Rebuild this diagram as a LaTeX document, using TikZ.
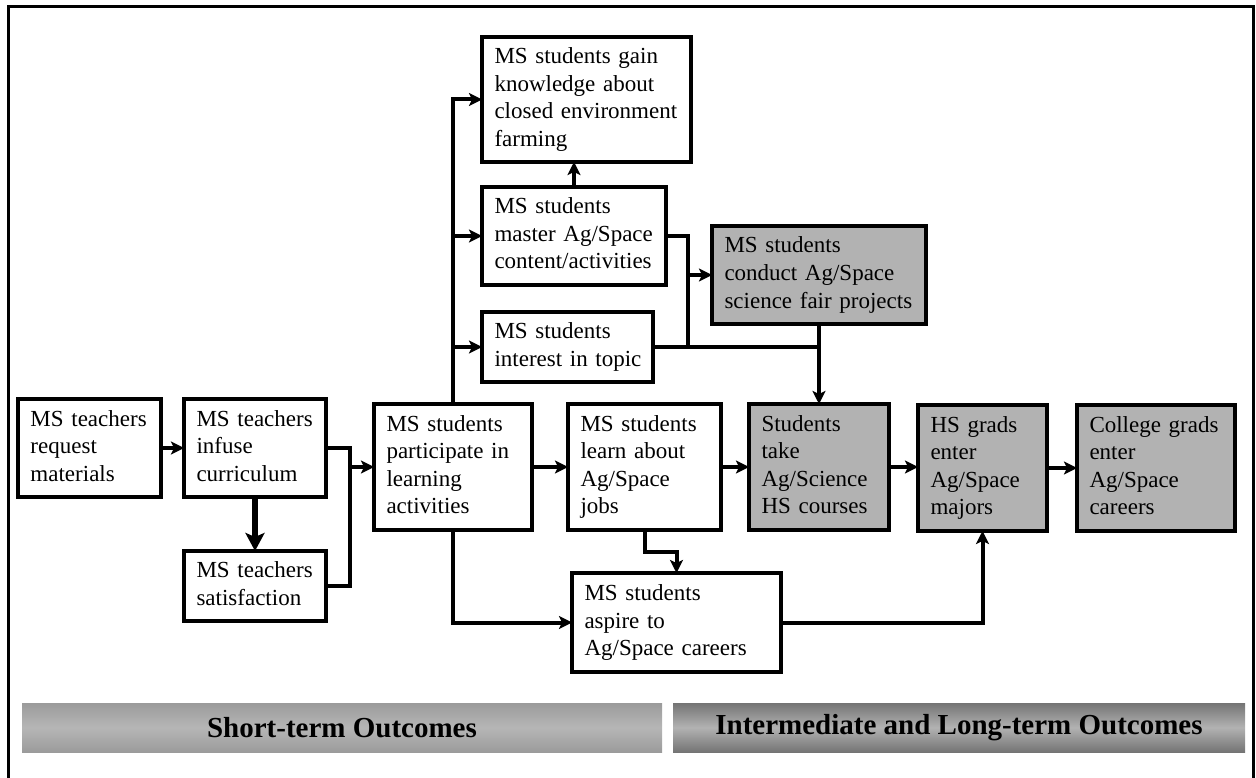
\documentclass[tikz,border=0pt]{standalone}
\usepackage{fontspec}
\setmainfont{Liberation Serif}
\usetikzlibrary{arrows.meta}
\definecolor{boxgray}{RGB}{178,178,178}
\definecolor{barAedge}{RGB}{155,155,155}
\definecolor{barAmid}{RGB}{182,182,182}
\definecolor{barBedge}{RGB}{116,116,116}
\definecolor{barBmid}{RGB}{178,178,178}
\newcommand\boxlines[1]{\begin{tabular}{@{}l@{}}#1\end{tabular}}
\begin{document}
\begin{tikzpicture}[x=1pt,y=-1pt,
  bx/.style={draw, line width=3.5pt, fill=white, inner xsep=12.5pt, inner ysep=0pt,
    align=left, anchor=north west, outer sep=0pt,
    font=\fontsize{23}{27.5}\selectfont},
  gbx/.style={bx, fill=boxgray},
  conn/.style={line width=4pt},
  arr/.style={conn, -{Stealth[length=13pt,width=13pt,inset=3pt]}},
  thickarr/.style={line width=6.5pt, -{Stealth[length=18pt,width=19pt,inset=4pt]}},
  bar/.style={anchor=north west, minimum height=49pt, inner sep=0pt, outer sep=0pt,
    font=\fontsize{29}{34}\selectfont\bfseries}
]
\useasboundingbox (0,0) rectangle (1256,778);
% frame (open at the bottom)
\draw[line width=3pt] (8,778) -- (8,7) -- (1253,7) -- (1253,778);

% boxes
\node[bx, text width=118pt, minimum height=98pt] (req) at (18,399) {\boxlines{MS teachers\\request\\materials}};
\node[bx, text width=117pt, minimum height=98pt] (inf) at (184,399) {\boxlines{MS teachers\\infuse\\curriculum}};
\node[bx, text width=117pt, minimum height=70pt] (sat) at (184,551) {\boxlines{MS teachers\\satisfaction}};
\node[bx, text width=133pt, minimum height=126pt] (par) at (374,404) {\boxlines{MS students\\participate in\\learning\\activities}};
\node[bx, text width=128pt, minimum height=126pt] (lrn) at (568,404) {\boxlines{MS students\\learn about\\Ag/Space\\jobs}};
\node[gbx, text width=115pt, minimum height=126pt] (take) at (749,404) {\boxlines{Students\\take\\Ag/Science\\HS courses}};
\node[gbx, text width=104pt, minimum height=126pt] (hs) at (918,405) {\boxlines{HS grads\\enter\\Ag/Space\\majors}};
\node[gbx, text width=133pt, minimum height=126pt] (col) at (1077,405) {\boxlines{College grads\\enter\\Ag/Space\\careers}};
\node[bx, text width=184pt, minimum height=125pt] (knw) at (482,37) {\boxlines{MS students gain\\knowledge about\\closed environment\\farming}};
\node[bx, text width=159pt, minimum height=98pt] (mst) at (482,187) {\boxlines{MS students\\master Ag/Space\\content/activities}};
\node[bx, text width=146pt, minimum height=70pt] (int) at (482,312) {\boxlines{MS students\\interest in topic}};
\node[gbx, text width=189pt, minimum height=98pt] (cnd) at (712,226) {\boxlines{MS students\\conduct Ag/Space\\science fair projects}};
\node[bx, text width=184pt, minimum height=99pt] (asp) at (572,573) {\boxlines{MS students\\aspire to\\Ag/Space careers}};

% connectors
\draw[arr] (req.east) -- (inf.west);
\draw[thickarr] (inf.south) -- (sat.north);
\coordinate (j1) at (350,467);
\draw[conn] (inf.east) -| (j1);
\draw[conn] (sat.east) -| (j1);
\draw[arr] (j1) -- (par.west);

\draw[arr] (par.north) |- (knw.west);
\draw[arr] (par.north |- mst.west) -- (mst.west);
\draw[arr] (par.north |- int.west) -- (int.west);
\draw[arr] (mst.north) -- (mst.north |- knw.south);

\coordinate (j2) at (688,275);
\draw[conn] (mst.east) -| (j2);
\draw[conn] (int.east) -| (j2);
\draw[conn] (int.east) -- (int.east -| cnd.south);
\draw[arr] (j2) -- (cnd.west);
\draw[arr] (cnd.south) -- (take.north);

\draw[arr] (par.east) -- (lrn.west);
\draw[arr] (lrn.east) -- (take.west);
\draw[arr] (take.east) -- (take.east -| hs.west);
\draw[arr] (hs.east) -- (col.west);
\draw[arr] (par.south) |- (asp.west);
\draw[arr] (lrn.south) -- ++(0,22) -| (asp.north);
\draw[arr] (asp.east) -| (hs.south);

% outcome bars
\node[bar, minimum width=640pt, top color=barAedge, bottom color=barAedge, middle color=barAmid] (st) at (22,703) {Short-term Outcomes};
\node[bar, minimum width=572pt, top color=barBedge, bottom color=barBedge, middle color=barBmid] (il) at (673,703) {Intermediate and Long-term Outcomes};
\end{tikzpicture}
\end{document}
